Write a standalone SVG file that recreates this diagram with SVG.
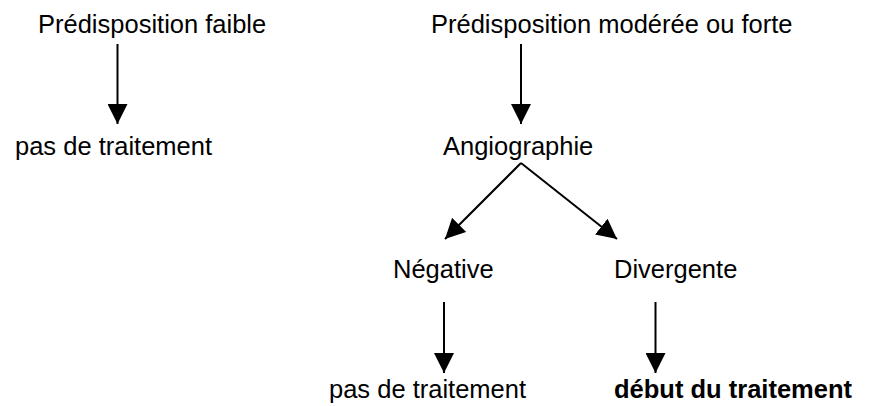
<svg xmlns="http://www.w3.org/2000/svg" width="869" height="406" viewBox="0 0 869 406">
  <style>
    .t { font-family: "Liberation Sans", Arial, sans-serif; font-size: 25.5px; fill: #000; }
    .b { font-weight: bold; }
    .c { stroke: #000; stroke-width: 2; fill: none; marker-end: url(#ah); }
  </style>
  <defs>
    <marker id="ah" markerUnits="userSpaceOnUse" markerWidth="20" markerHeight="20" refX="20" refY="10" orient="auto" viewBox="0 0 20 20">
      <path d="M0,0 L20,10 L0,20 Z" fill="#000"/>
    </marker>
  </defs>
  <rect width="869" height="406" fill="#fff"/>
  <g id="connectors">
    <line class="c" x1="117.5" y1="44" x2="117.5" y2="124"/>
    <line class="c" x1="521" y1="44" x2="521" y2="124"/>
    <line class="c" x1="521" y1="163" x2="445" y2="239"/>
    <line class="c" x1="521" y1="163" x2="617" y2="239"/>
    <line class="c" x1="444" y1="302" x2="444" y2="373"/>
    <line class="c" x1="655.5" y1="302" x2="655.5" y2="373"/>
  </g>
  <g id="n_faible"><text class="t" x="38" y="33">Prédisposition faible</text></g>
  <g id="n_moderee"><text class="t" x="431" y="33">Prédisposition modérée ou forte</text></g>
  <g id="n_pas1"><text class="t" x="15" y="155">pas de traitement</text></g>
  <g id="n_angio"><text class="t" x="443" y="155">Angiographie</text></g>
  <g id="n_negative"><text class="t" x="393" y="278">Négative</text></g>
  <g id="n_divergente"><text class="t" x="614" y="278">Divergente</text></g>
  <g id="n_pas2"><text class="t" x="329" y="398">pas de traitement</text></g>
  <g id="n_debut"><text class="t b" x="614" y="398">début du traitement</text></g>
</svg>
